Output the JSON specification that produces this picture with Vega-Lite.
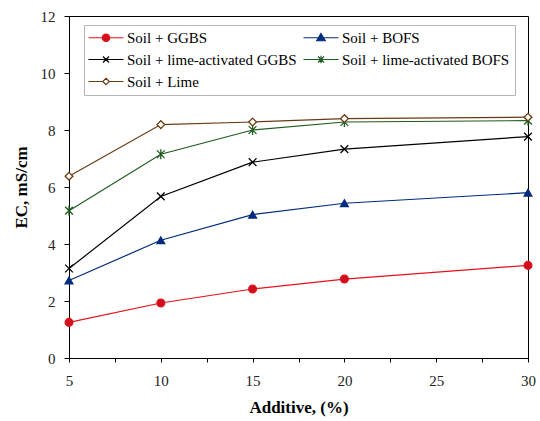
{
  "$schema": "https://vega.github.io/schema/vega-lite/v6.json",
  "width": 459,
  "height": 342,
  "autosize": {"type": "none"},
  "padding": {"left": 69, "top": 16, "right": 12, "bottom": 63},
  "background": "white",
  "config": {
    "font": "Liberation Serif",
    "view": {"stroke": "black", "strokeWidth": 1}
  },
  "data": {
    "values": [
      {"series": "Soil + GGBS", "Additive": 5, "EC": 1.25},
      {"series": "Soil + GGBS", "Additive": 10, "EC": 1.93},
      {"series": "Soil + GGBS", "Additive": 15, "EC": 2.42},
      {"series": "Soil + GGBS", "Additive": 20, "EC": 2.77},
      {"series": "Soil + GGBS", "Additive": 30, "EC": 3.25},
      {"series": "Soil + BOFS", "Additive": 5, "EC": 2.72},
      {"series": "Soil + BOFS", "Additive": 10, "EC": 4.13},
      {"series": "Soil + BOFS", "Additive": 15, "EC": 5.03},
      {"series": "Soil + BOFS", "Additive": 20, "EC": 5.43},
      {"series": "Soil + BOFS", "Additive": 30, "EC": 5.8},
      {"series": "Soil + lime-activated GGBS", "Additive": 5, "EC": 3.14},
      {"series": "Soil + lime-activated GGBS", "Additive": 10, "EC": 5.67},
      {"series": "Soil + lime-activated GGBS", "Additive": 15, "EC": 6.87},
      {"series": "Soil + lime-activated GGBS", "Additive": 20, "EC": 7.33},
      {"series": "Soil + lime-activated GGBS", "Additive": 30, "EC": 7.77},
      {"series": "Soil + lime-activated BOFS", "Additive": 5, "EC": 5.17},
      {"series": "Soil + lime-activated BOFS", "Additive": 10, "EC": 7.15},
      {"series": "Soil + lime-activated BOFS", "Additive": 15, "EC": 8.0},
      {"series": "Soil + lime-activated BOFS", "Additive": 20, "EC": 8.28},
      {"series": "Soil + lime-activated BOFS", "Additive": 30, "EC": 8.33},
      {"series": "Soil + Lime", "Additive": 5, "EC": 6.38},
      {"series": "Soil + Lime", "Additive": 10, "EC": 8.19},
      {"series": "Soil + Lime", "Additive": 15, "EC": 8.28},
      {"series": "Soil + Lime", "Additive": 20, "EC": 8.4},
      {"series": "Soil + Lime", "Additive": 30, "EC": 8.45}
    ]
  },
  "encoding": {
    "x": {
      "field": "Additive",
      "type": "quantitative",
      "scale": {"domain": [5, 30], "nice": false, "zero": false},
      "axis": {
        "title": "Additive, (%)",
        "values": [5, 7.5, 10, 12.5, 15, 17.5, 20, 22.5, 25, 27.5, 30],
        "labelExpr": "datum.value % 5 == 0 ? datum.label : ''",
        "tickSize": 4,
        "labelPadding": 11,
        "titlePadding": 11,
        "labelFlush": false,
        "grid": false,
        "domainColor": "black",
        "tickColor": "black",
        "labelFont": "Liberation Serif",
        "labelFontSize": 15,
        "labelColor": "#222",
        "titleFont": "Liberation Serif",
        "titleFontSize": 17,
        "titleFontWeight": "bold",
        "titleColor": "black"
      }
    },
    "y": {
      "field": "EC",
      "type": "quantitative",
      "scale": {"domain": [0, 12], "nice": false},
      "axis": {
        "title": "EC, mS/cm",
        "values": [0, 2, 4, 6, 8, 10, 12],
        "tickSize": 5,
        "labelPadding": 9,
        "titlePadding": 10,
        "grid": false,
        "domainColor": "black",
        "tickColor": "black",
        "labelFont": "Liberation Serif",
        "labelFontSize": 15,
        "labelColor": "#222",
        "titleFont": "Liberation Serif",
        "titleFontSize": 17,
        "titleFontWeight": "bold",
        "titleColor": "black"
      }
    }
  },
  "resolve": {"scale": {"stroke": "independent", "fill": "independent", "shape": "independent"}},
  "layer": [
    {
      "mark": {"type": "line", "strokeWidth": 1.2},
      "encoding": {
        "stroke": {
          "field": "series",
          "type": "nominal",
          "scale": {
            "domain": ["Soil + GGBS", "Soil + BOFS", "Soil + lime-activated GGBS", "Soil + lime-activated BOFS", "Soil + Lime"],
            "range": ["#e8101a", "#002b7f", "#000000", "#1e5b1e", "#6a3b12"]
          },
          "legend": null
        }
      }
    },
    {
      "mark": {"type": "point", "opacity": 1, "strokeWidth": 1.3, "size": 60},
      "encoding": {
        "stroke": {
          "field": "series",
          "type": "nominal",
          "scale": {
            "domain": ["Soil + GGBS", "Soil + BOFS", "Soil + lime-activated GGBS", "Soil + lime-activated BOFS", "Soil + Lime"],
            "range": ["#e8101a", "#002b7f", "#000000", "#1e5b1e", "#6a3b12"]
          },
          "legend": null
        },
        "fill": {
          "field": "series",
          "type": "nominal",
          "scale": {
            "domain": ["Soil + GGBS", "Soil + BOFS", "Soil + lime-activated GGBS", "Soil + lime-activated BOFS", "Soil + Lime"],
            "range": ["#cc1020", "#002b7f", "transparent", "transparent", "white"]
          },
          "legend": null
        },
        "shape": {
          "field": "series",
          "type": "nominal",
          "scale": {
            "domain": ["Soil + GGBS", "Soil + BOFS", "Soil + lime-activated GGBS", "Soil + lime-activated BOFS", "Soil + Lime"],
            "range": ["circle", "triangle-up", "M-1,-1L1,1M-1,1L1,-1", "M-1,-1L1,1M-1,1L1,-1M0,-1.3V1.3", "diamond"]
          },
          "legend": null
        }
      }
    },
    {
      "mark": {"type": "point", "opacity": 1, "size": 0, "filled": true, "strokeWidth": 0},
      "encoding": {
        "stroke": {
          "field": "series",
          "type": "nominal",
          "scale": {
            "domain": ["Soil + GGBS", "Soil + BOFS", "Soil + lime-activated GGBS", "Soil + lime-activated BOFS", "Soil + Lime"],
            "range": ["#e8101a", "#002b7f", "#000000", "#1e5b1e", "#6a3b12"]
          },
          "legend": {
            "title": null,
            "orient": "none",
            "legendX": 15,
            "legendY": 9,
            "columns": 2,
            "direction": "horizontal",
            "strokeColor": "#b5b5b5",
            "fillColor": "white",
            "padding": 5,
            "rowPadding": 6,
            "columnPadding": 4,
            "labelFont": "Liberation Serif",
            "labelFontSize": 15,
            "labelColor": "black",
            "labelLimit": 400,
            "symbolSize": 100,
            "symbolStrokeWidth": 1.2,
            "labelOffset": 23
          }
        },
        "fill": {
          "field": "series",
          "type": "nominal",
          "scale": {
            "domain": ["Soil + GGBS", "Soil + BOFS", "Soil + lime-activated GGBS", "Soil + lime-activated BOFS", "Soil + Lime"],
            "range": ["#cc1020", "#002b7f", "transparent", "transparent", "white"]
          }
        },
        "shape": {
          "field": "series",
          "type": "nominal",
          "scale": {
            "domain": ["Soil + GGBS", "Soil + BOFS", "Soil + lime-activated GGBS", "Soil + lime-activated BOFS", "Soil + Lime"],
            "range": [
              "M-1.6,0H5.4M1.15,0A0.75,0.75 0 1,1 2.65,0A0.75,0.75 0 1,1 1.15,0Z",
              "M-1.6,0H5.4M1.9,-0.85L2.75,0.6L1.05,0.6Z",
              "M-1.6,0H5.4M1.3,-0.6L2.5,0.6M1.3,0.6L2.5,-0.6",
              "M-1.6,0H5.4M1.3,-0.6L2.5,0.6M1.3,0.6L2.5,-0.6M1.9,-0.75V0.75",
              "M-1.6,0H1.25M2.55,0H5.4M1.9,-0.65L2.55,0L1.9,0.65L1.25,0Z"
            ]
          }
        }
      }
    }
  ]
}
